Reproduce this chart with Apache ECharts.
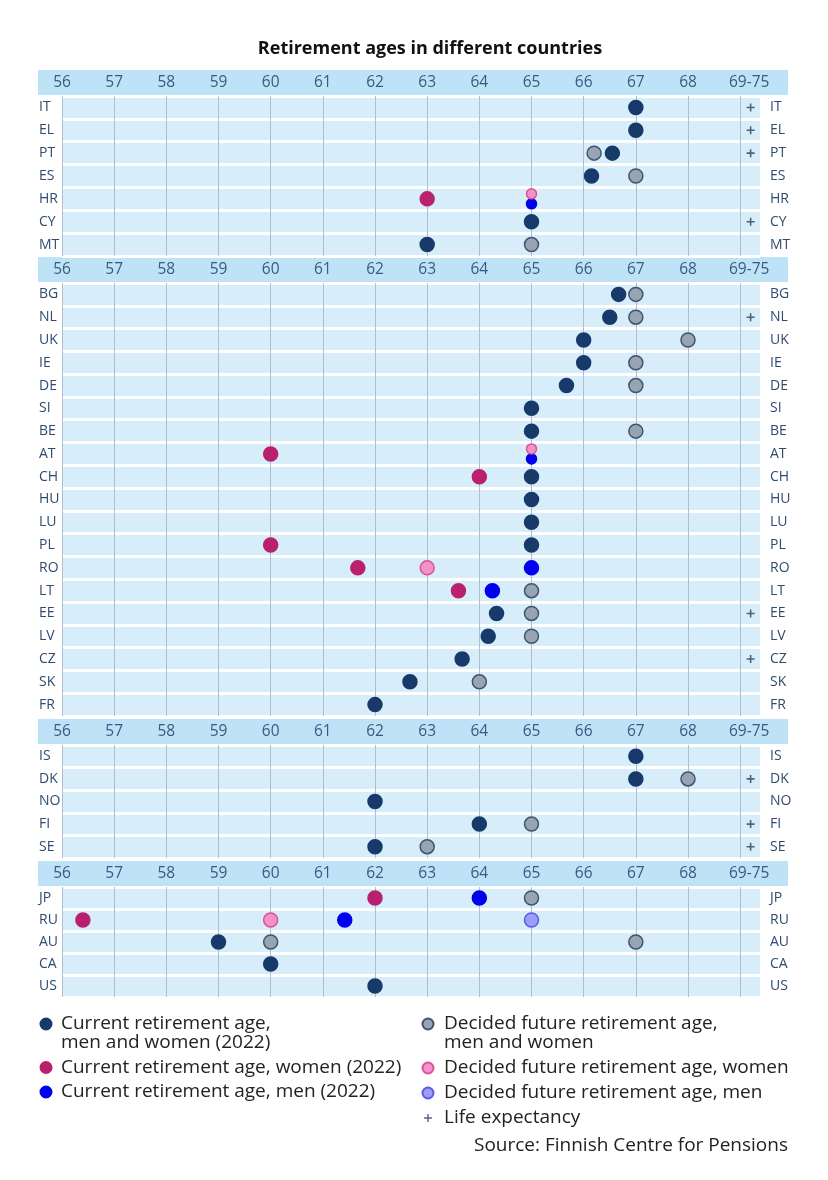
<!DOCTYPE html>
<html>
<head>
<meta charset="utf-8">
<script src="https://cdn.jsdelivr.net/npm/echarts@6/dist/echarts.min.js"></script>
<style>
  html, body { margin: 0; padding: 0; background: #fff; }
  #chart { width: 828px; height: 1180px; }
</style>
</head>
<body>
<div id="chart"></div>
<script>
// country rows of each panel, top to bottom
const panelRows = [
  ['IT', 'EL', 'PT', 'ES', 'HR', 'CY', 'MT'],
  ['BG', 'NL', 'UK', 'IE', 'DE', 'SI', 'BE', 'AT', 'CH', 'HU', 'LU', 'PL', 'RO', 'LT', 'EE', 'LV', 'CZ', 'SK', 'FR'],
  ['IS', 'DK', 'NO', 'FI', 'SE'],
  ['JP', 'RU', 'AU', 'CA', 'US']
]
const tickLabels = ['56', '57', '58', '59', '60', '61', '62', '63', '64', '65', '66', '67', '68', '69-75']

const currentBoth = [
  ['IT', 67], ['EL', 67], ['PT', 66.55], ['ES', 66.15], ['CY', 65], ['MT', 63],
  ['BG', 66.67], ['NL', 66.5], ['UK', 66], ['IE', 66], ['DE', 65.67], ['SI', 65], ['BE', 65],
  ['CH', 65], ['HU', 65], ['LU', 65], ['PL', 65], ['EE', 64.33], ['LV', 64.17], ['CZ', 63.67],
  ['SK', 62.67], ['FR', 62],
  ['IS', 67], ['DK', 67], ['NO', 62], ['FI', 64], ['SE', 62],
  ['AU', 59], ['CA', 60], ['US', 62]
]
const currentWomen = [
  ['HR', 63], ['AT', 60], ['CH', 64], ['PL', 60], ['RO', 61.67], ['LT', 63.6], ['JP', 62], ['RU', 56.4]
]
const currentMen = [
  ['HR', 65], ['AT', 65], ['RO', 65], ['LT', 64.25], ['JP', 64], ['RU', 61.42]
]
const futureBoth = [
  ['PT', 66.2], ['ES', 67], ['MT', 65],
  ['BG', 67], ['NL', 67], ['UK', 68], ['IE', 67], ['DE', 67], ['BE', 67], ['LT', 65], ['EE', 65],
  ['LV', 65], ['SK', 64],
  ['DK', 68], ['FI', 65], ['SE', 63],
  ['JP', 65], ['AU', 60], ['AU', 67]
]
const futureWomen = [['HR', 65], ['AT', 65], ['RO', 63], ['RU', 60]]
const futureMen = [['RU', 65]]
const lifeExpectancy = ['IT', 'EL', 'PT', 'CY', 'NL', 'EE', 'CZ', 'DK', 'FI', 'SE']
const lifeExpectancyAge = 69.2

// countries where women (future) and men (current) share one spot, drawn half size
const sharedSpot = ['HR', 'AT']

// layout of the four panels (header bar top, bottom of last row)
const headerTops = [70, 257, 719, 861]
const rowBottoms = [256, 716, 858, 997]
const plotLeft = 62
const plotRight = 760

const font = 'Open Sans'
const textColor = '#2f4b70'
const plus = 'path://M4,0L6,0L6,4L10,4L10,6L6,6L6,10L4,10L4,6L0,6L0,4L4,4Z'
// same plus with empty corners so the legend draws it smaller
const plusIcon = 'path://M-2,-2L-2,-2ZM12,12L12,12ZM4.1,0L5.9,0L5.9,4.1L10,4.1L10,5.9L5.9,5.9L5.9,10L4.1,10L4.1,5.9L0,5.9L0,4.1L4.1,4.1Z'

const kinds = [
  { name: 'Current retirement age, men and women (2022)', data: currentBoth, color: '#183a6b', border: '#183a6b' },
  { name: 'Current retirement age, women (2022)', data: currentWomen, color: '#b9216f', border: '#b9216f' },
  { name: 'Current retirement age, men (2022)', data: currentMen, color: '#0000ee', border: '#0000ee', shared: 1 },
  { name: 'Decided future retirement age, men and women', data: futureBoth, color: '#98a3b3', border: '#3f5470' },
  { name: 'Decided future retirement age, women', data: futureWomen, color: '#f391c8', border: '#d4559b', shared: -1 },
  { name: 'Decided future retirement age, men', data: futureMen, color: '#9d9cf6', border: '#5b5be8' }
]

const grid = [], xAxis = [], yAxis = [], series = [], graphic = []
panelRows.forEach((rows, g) => {
  const top = headerTops[g] + 26
  graphic.push({
    type: 'rect', z: -1,
    shape: { x: 38, y: headerTops[g], width: 750, height: 25 },
    style: { fill: '#bee3f7' }
  })
  grid.push({
    left: plotLeft, right: 828 - plotRight, top: top, height: rowBottoms[g] - top,
    show: true, backgroundColor: '#d7edf9', borderWidth: 0
  })
  xAxis.push({
    type: 'value', gridIndex: g, position: 'top', min: 56, max: 69.38, interval: 1,
    axisLine: { show: false }, axisTick: { show: false },
    axisLabel: {
      margin: 13, verticalAlign: 'middle', fontFamily: font, fontSize: 15.5, color: '#3a5a82',
      formatter: v => {
        if (!Number.isInteger(v)) return ''
        return v === 69 ? '{w|' + tickLabels[v - 56] + '}' : tickLabels[v - 56]
      },
      rich: { w: { fontFamily: font, fontSize: 15.5, color: '#3a5a82', padding: [0, 0, 0, 18] } }
    },
    splitLine: { show: true, showMaxLine: false, lineStyle: { color: '#aebfcf', width: 1 } }
  })
  yAxis.push({
    type: 'category', gridIndex: g, data: rows, inverse: true,
    axisLine: { show: false }, axisTick: { show: false },
    axisLabel: { align: 'left', margin: 23, fontFamily: font, fontSize: 14, color: textColor },
    splitLine: { show: true, lineStyle: { color: '#ffffff', width: 3 } }
  })
  yAxis.push({
    type: 'category', gridIndex: g, data: rows, inverse: true, position: 'right',
    axisLine: { show: false }, axisTick: { show: false },
    axisLabel: { margin: 10, fontFamily: font, fontSize: 14, color: textColor },
    splitLine: { show: false }
  })

  kinds.forEach(k => {
    series.push({
      type: 'scatter', name: k.name, xAxisIndex: g, yAxisIndex: g * 2,
      symbol: 'circle', symbolSize: 14,
      itemStyle: { color: k.color, borderColor: k.border, borderWidth: 1.5, opacity: 1 },
      data: k.data.filter(d => rows.includes(d[0])).map(d => {
        const item = { value: [d[1], d[0]] }
        if (k.shared && sharedSpot.includes(d[0])) {
          item.symbolSize = 10
          item.symbolOffset = [0, 5 * k.shared]
        }
        return item
      })
    })
  })
  series.push({
    type: 'scatter', name: 'Life expectancy', xAxisIndex: g, yAxisIndex: g * 2,
    symbol: plus, symbolSize: 8,
    itemStyle: { color: '#2b3f5e' },
    data: lifeExpectancy.filter(c => rows.includes(c)).map(c => [lifeExpectancyAge, c])
  })
})

// two-line names get an empty first line so the dot sits beside the first text line
const splitName = n => n.includes(', men and women') ? '\n' + n.replace(', men and women', ',\nmen and women') : n
const legendBase = {
  orient: 'vertical', top: 995.5, padding: 0, itemWidth: 11, itemHeight: 11,
  selectedMode: false, formatter: splitName
}

const chart = echarts.init(document.getElementById('chart'), null, { renderer: 'canvas' })
chart.setOption({
  backgroundColor: '#ffffff',
  animation: false,
  title: [
    {
      text: 'Retirement ages in different countries', left: 430, top: 40, padding: 0, textAlign: 'center',
      textStyle: { fontFamily: font, fontSize: 18, fontWeight: 'bold', color: '#111' }
    },
    {
      text: 'Source: Finnish Centre for Pensions', right: 40, top: 1136, padding: 0,
      textStyle: { fontFamily: font, fontSize: 19, fontWeight: 'normal', color: '#222' }
    }
  ],
  legend: [
    Object.assign({}, legendBase, {
      left: 39.5, itemGap: 5.5,
      textStyle: { fontFamily: font, fontSize: 19, color: '#222', lineHeight: 19, padding: [0, 0, 0, 4.5] },
      data: [kinds[0].name, kinds[1].name, kinds[2].name]
    }),
    Object.assign({}, legendBase, {
      left: 421.5, itemGap: 6,
      textStyle: { fontFamily: font, fontSize: 19, color: '#222', lineHeight: 19, padding: [0, 0, 0, 5.5] },
      data: [kinds[3].name, kinds[4].name, kinds[5].name, { name: 'Life expectancy', icon: plusIcon }]
    })
  ],
  graphic: graphic,
  grid: grid,
  xAxis: xAxis,
  yAxis: yAxis,
  series: series
})
</script>
</body>
</html>
